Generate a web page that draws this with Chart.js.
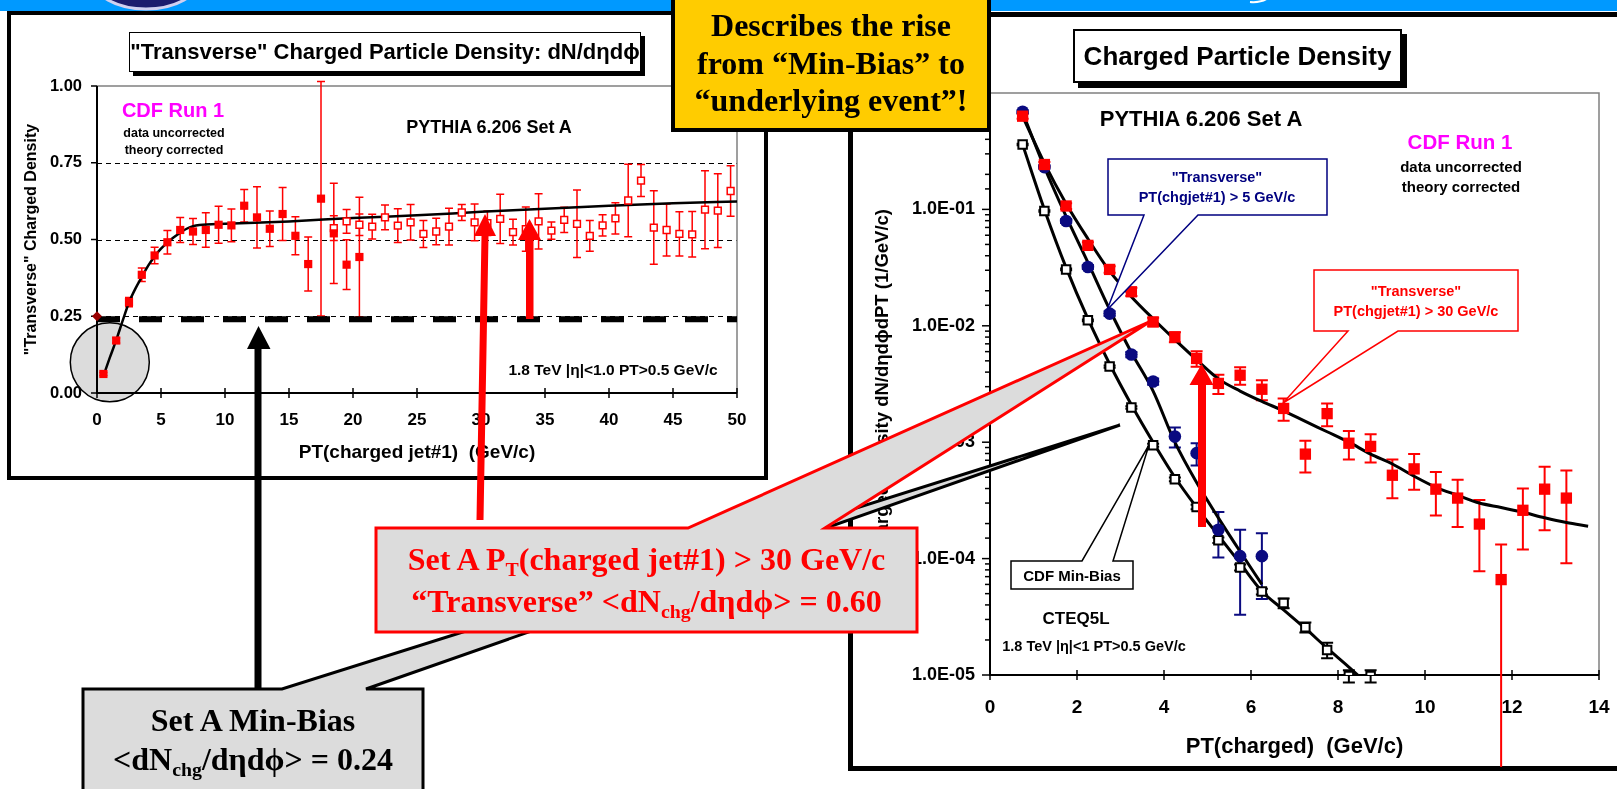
<!DOCTYPE html>
<html>
<head>
<meta charset="utf-8">
<script src="https://cdn.jsdelivr.net/npm/chart.js@4.4.1/dist/chart.umd.min.js"></script>
<style>
html, body { margin: 0; padding: 0; background: #fff; width: 1617px; height: 789px; overflow: hidden; position: relative; font-family: "Liberation Sans", Arial, sans-serif; }
.abs { position: absolute; }
.strip { left: 0; top: 0; width: 1617px; height: 11px; background: #0099ff; }
.frame { box-sizing: border-box; border: 4px solid #000; background: #fff; }
.lbl { position: absolute; transform: translate(-50%, -50%); white-space: nowrap; font-weight: bold; line-height: 1; }
.titlebox { position: absolute; box-sizing: border-box; border: 1.5px solid #000; background: #fff; display: flex; align-items: center; justify-content: center; font-weight: bold; white-space: nowrap; }
.serif { position: absolute; font-family: "Liberation Serif", "Times New Roman", serif; font-weight: bold; text-align: center; white-space: nowrap; font-size: 32px; }
.serif sub { font-size: 0.62em; vertical-align: baseline; position: relative; top: 0.28em; }
canvas { position: absolute; }
svg { position: absolute; left: 0; top: 0; }
.yellow { position: absolute; left: 671px; top: -4px; width: 320px; height: 136px; box-sizing: border-box; border: 4px solid #000; background: #ffcc00; }
</style>
</head>
<body>
<div class="abs strip"></div>
<div class="abs frame" style="left:7px;top:11px;width:761px;height:469px"></div>
<div class="abs frame" style="left:848px;top:12px;width:800px;height:759px;border-width:5px"></div>

<canvas id="leftChart" width="750" height="460" style="left:12px;top:16px"></canvas>
<canvas id="rightChart" width="765" height="750" style="left:852px;top:17px"></canvas>

<!-- left panel texts -->
<div class="titlebox" style="left:129px;top:32px;width:512px;height:40px;font-size:22px;box-shadow:4px 4px 0 #000">"Transverse" Charged Particle Density: dN/dηdϕ</div>
<div class="lbl" style="left:173px;top:110px;font-size:20px;color:#ff00ff">CDF Run 1</div>
<div class="lbl" style="left:174px;top:133px;font-size:12.5px">data uncorrected</div>
<div class="lbl" style="left:174px;top:150px;font-size:12.5px">theory corrected</div>
<div class="lbl" style="left:489px;top:127px;font-size:18px">PYTHIA 6.206 Set A</div>
<div class="lbl" style="left:613px;top:370px;font-size:15.5px">1.8 TeV |η|&lt;1.0 PT&gt;0.5 GeV/c</div>

<!-- right panel texts -->
<div class="titlebox" style="left:1073px;top:29px;width:329px;height:54px;font-size:26px;border-width:2px;box-shadow:5px 5px 0 #000">Charged Particle Density</div>
<div class="lbl" style="left:1201px;top:119px;font-size:22px">PYTHIA 6.206 Set A</div>
<div class="lbl" style="left:1460px;top:142px;font-size:20.5px;color:#ff00ff">CDF Run 1</div>
<div class="lbl" style="left:1461px;top:166px;font-size:15px">data uncorrected</div>
<div class="lbl" style="left:1461px;top:186px;font-size:15px">theory corrected</div>
<div class="lbl" style="left:1076px;top:618px;font-size:17px">CTEQ5L</div>
<div class="lbl" style="left:1094px;top:646px;font-size:14.5px">1.8 TeV |η|&lt;1 PT&gt;0.5 GeV/c</div>

<svg width="1617" height="789">
  <ellipse cx="146" cy="-22" rx="54" ry="31" fill="#1c1c6e" stroke="#d0d0f0" stroke-width="3"/>
  <path d="M1250 2 Q1261 3 1268 -2" stroke="#fff" stroke-width="2" fill="none"/>
  <!-- right panel callouts -->
  <path d="M1108 159 H1327 V215 H1198 L1107 310 L1144 215 H1108 Z" fill="#fff" stroke="#000080" stroke-width="1.5"/>
  <path d="M1314 270 H1518 V331 H1398 L1283 403 L1348 331 H1314 Z" fill="#fff" stroke="#ff0000" stroke-width="1.5"/>
  <path d="M1011 561 H1082 L1149 445 L1113 561 H1133 V589 H1011 Z" fill="#fff" stroke="#000" stroke-width="1.5"/>
  <!-- big callouts -->
  <path d="M83 689 H282 L1120 425 L366 689 H423 V800 H83 Z" fill="#dcdcdc" stroke="#000" stroke-width="3"/>
  <path d="M376 528 H688 L1151 321 L825 528 H917 V632 H376 Z" fill="#dcdcdc" stroke="#ff0000" stroke-width="3"/>
  <!-- arrows -->
  <path d="M254.5 689 V349 H247 L258.5 326 L270.5 349 H261.5 V689 Z" fill="#000"/>
  <path d="M476.5 520 L483.5 520 L488.5 236 L496 236 L485 214 L474 236 L481.5 236 Z" fill="#ff0000"/>
  <path d="M526 319 H533.5 V240 H541 L529.5 219 L518 240 H526 Z" fill="#ff0000"/>
  <path d="M1198 527 H1206 V385 H1213.5 L1201.7 364 L1189.5 385 H1198 Z" fill="#ff0000"/>
</svg>

<div class="lbl" style="left:1217px;top:177px;font-size:14.5px;color:#000080">"Transverse"</div>
<div class="lbl" style="left:1217px;top:197px;font-size:14.5px;color:#000080">PT(chgjet#1) &gt; 5 GeV/c</div>
<div class="lbl" style="left:1416px;top:291px;font-size:14.5px;color:#ff0000">"Transverse"</div>
<div class="lbl" style="left:1416px;top:311px;font-size:14.5px;color:#ff0000">PT(chgjet#1) &gt; 30 GeV/c</div>
<div class="lbl" style="left:1072px;top:575px;font-size:15px">CDF Min-Bias</div>

<div class="serif" style="left:376px;width:541px;top:540px;line-height:38px;color:#ff0000">Set A P<sub>T</sub>(charged jet#1) &gt; 30 GeV/c<br>“Transverse” &lt;dN<sub>chg</sub>/dηdϕ&gt; = 0.60</div>
<div class="serif" style="left:83px;width:340px;top:701px;line-height:39px;color:#000">Set A Min-Bias<br>&lt;dN<sub>chg</sub>/dηdϕ&gt; = 0.24</div>

<div class="yellow"></div>
<div class="serif" style="left:671px;width:320px;top:7px;line-height:37.5px;color:#000">Describes the rise<br>from “Min-Bias” to<br>“underlying event”!</div>

<script>
// left panel: "Transverse" charged density vs PT(charged jet#1)
const mbJetPt = [0.5, 1.5, 2.5, 3.5, 4.5, 5.5, 6.5, 7.5, 8.5, 9.5, 10.5, 11.5, 12.5, 13.5, 14.5, 15.5, 16.5, 17.5, 18.5, 19.5, 20.5];
const mbDensity = [0.062, 0.171, 0.296, 0.385, 0.448, 0.491, 0.531, 0.526, 0.531, 0.548, 0.546, 0.610, 0.572, 0.535, 0.583, 0.512, 0.420, 0.633, 0.520, 0.418, 0.443];
const mbDensityErr = [0.005, 0.008, 0.015, 0.022, 0.027, 0.038, 0.041, 0.042, 0.056, 0.060, 0.053, 0.053, 0.100, 0.058, 0.086, 0.062, 0.088, 0.382, 0.163, 0.081, 0.195];

const jetJetPt = [18.5, 19.5, 20.5, 21.5, 22.5, 23.5, 24.5, 25.5, 26.5, 27.5, 28.5, 29.5, 30.5, 31.5, 32.5, 33.5, 34.5, 35.5, 36.5, 37.5, 38.5, 39.5, 40.5, 41.5, 42.5, 43.5, 44.5, 45.5, 46.5, 47.5, 48.5, 49.5];
const jetDensity = [0.537, 0.559, 0.548, 0.542, 0.572, 0.545, 0.556, 0.518, 0.526, 0.542, 0.588, 0.556, 0.553, 0.567, 0.524, 0.534, 0.559, 0.529, 0.564, 0.551, 0.512, 0.546, 0.569, 0.627, 0.692, 0.539, 0.531, 0.518, 0.517, 0.597, 0.594, 0.658];
const jetDensityErr = [0.040, 0.039, 0.035, 0.040, 0.040, 0.055, 0.058, 0.044, 0.043, 0.060, 0.026, 0.060, 0.040, 0.080, 0.042, 0.072, 0.090, 0.028, 0.041, 0.110, 0.050, 0.035, 0.051, 0.118, 0.052, 0.120, 0.085, 0.072, 0.074, 0.127, 0.120, 0.082];

const setAJetPt = [0.5, 1, 1.5, 2, 2.5, 3, 3.5, 4, 4.5, 5, 5.5, 6, 6.5, 7, 7.5, 8, 10, 15, 20, 25, 30, 35, 40, 45, 50];
const setADensity = [0.055, 0.115, 0.172, 0.235, 0.295, 0.34, 0.378, 0.415, 0.445, 0.47, 0.49, 0.507, 0.522, 0.535, 0.543, 0.547, 0.551, 0.559, 0.57, 0.579, 0.59, 0.6, 0.61, 0.618, 0.624];

const minBiasJetPt = [0, 50];
const minBiasLevel = [0.24, 0.24];

// right panel: charged density vs PT(charged)
const ptCharged = [0.75, 1.25, 1.75, 2.25, 2.75, 3.25, 3.75, 4.25, 4.75, 5.25, 5.75, 6.25, 6.75, 7.25, 7.75, 8.25, 8.75, 9.25, 9.75, 10.25, 10.75, 11.25, 11.75, 12.25, 12.75, 13.25];
const trans30 = [0.632, 0.243, 0.107, 0.0491, 0.0305, 0.0196, 0.0108, 0.00802, 0.00524, 0.0032, 0.00376, 0.00285, 0.00195, 0.00079, 0.00176, 0.00098, 0.00092, 0.00052, 0.00059, 0.000395, 0.000331, 0.000198, 0.000066, 0.00026, 0.000395, 0.000331];
const trans30Err = [0.03, 0.012, 0.006, 0.003, 0.002, 0.0016, 0.0009, 0.0008, 0.0008, 0.0006, 0.00064, 0.00056, 0.00042, 0.00024, 0.00039, 0.00027, 0.00025, 0.00019, 0.0002, 0.00016, 0.000144, 0.00012, 0.000066, 0.00014, 0.00022, 0.00024];
const trans5 = [0.69, 0.231, 0.0794, 0.032, 0.01273, 0.00566, 0.00332, 0.00112, 0.000805, 0.000177, 0.000105, 0.000105];
const trans5Err = [0.02, 0.008, 0.003, 0.0013, 0.0006, 0.0003, 0.0002, 0.00022, 0.000175, 0.000075, 0.000072, 0.00006];
const minBias = [0.361, 0.0968, 0.0305, 0.01115, 0.00447, 0.00199, 0.000942, 0.00048, 0.000278, 0.000144, 0.000084, 0.0000522, 0.0000415, 0.0000257, 0.0000164, 0.0000098, 0.0000098];
const minBiasErr = [0.005, 0.0015, 0.0005, 0.0002, 0.0001, 0.00005, 0.00003, 0.000018, 0.000012, 0.000008, 0.000005, 0.000003, 0.000004, 0.0000025, 0.0000025, 0.0000012, 0.0000012];

const curvePt = [0.75, 1.25, 1.75, 2.25, 2.75, 3.25, 3.75, 4.25, 4.75, 5.25, 5.75, 6.25, 6.75, 7.25, 7.75, 8.25, 8.75, 9.25, 9.75, 10.25, 10.75, 11.25, 11.75, 12.25, 12.75, 13.25, 13.75];
const curve30 = [0.63, 0.25, 0.112, 0.056, 0.0295, 0.0178, 0.0115, 0.0076, 0.0051, 0.0035, 0.00275, 0.00224, 0.00186, 0.00151, 0.00123, 0.001, 0.00079, 0.00065, 0.00051, 0.00041, 0.00035, 0.0003, 0.000275, 0.00025, 0.000224, 0.000204, 0.00019];
const curve5 = [0.68, 0.23, 0.087, 0.035, 0.0138, 0.0059, 0.00275, 0.001, 0.00045, 0.000224, 0.000115, 0.00006];
const curveMB = [0.36, 0.1, 0.0316, 0.0115, 0.0047, 0.0021, 0.001, 0.0005, 0.000275, 0.000158, 0.0000912, 0.0000525, 0.0000363, 0.0000251, 0.000017, 0.0000117, 0.0000079];

const pts = (xs, ys) => ys.map((y, i) => ({ x: xs[i], y: y }));

Chart.defaults.font.family = '"Liberation Sans", Arial, sans-serif';
Chart.defaults.font.weight = 'bold';
Chart.defaults.color = '#000';
Chart.defaults.animation = false;

// axes, plot border, tick marks, error bars
const axisDecor = {
    id: 'axisDecor',
    beforeDraw(chart, args, opts) {
        if (!opts.circle) return;
        const ctx = chart.ctx;
        const c = opts.circle;
        ctx.save();
        ctx.beginPath();
        ctx.arc(chart.scales.x.getPixelForValue(c.x), chart.scales.y.getPixelForValue(c.y), c.r, 0, Math.PI * 2);
        ctx.fillStyle = '#dcdcdc';
        ctx.fill();
        ctx.lineWidth = 1.5;
        ctx.strokeStyle = '#000';
        ctx.stroke();
        ctx.restore();
    },
    beforeDatasetsDraw(chart, args, opts) {
        const ctx = chart.ctx;
        const a = chart.chartArea;
        const xs = chart.scales.x;
        const ys = chart.scales.y;
        ctx.save();
        if (opts.dashedGrid) {
            ctx.setLineDash([5, 4]);
            ctx.strokeStyle = '#000';
            ctx.lineWidth = 1;
            ys.ticks.forEach(t => {
                if (t.value <= ys.min || t.value >= ys.max) return;
                const py = Math.round(ys.getPixelForValue(t.value)) + 0.5;
                ctx.beginPath();
                ctx.moveTo(a.left, py);
                ctx.lineTo(a.right, py);
                ctx.stroke();
            });
            ctx.setLineDash([]);
        }
        ctx.strokeStyle = '#808080';
        ctx.lineWidth = 1.5;
        ctx.beginPath();
        ctx.moveTo(a.left, a.top);
        ctx.lineTo(a.right, a.top);
        ctx.lineTo(a.right, a.bottom);
        ctx.stroke();

        ctx.strokeStyle = '#000';
        ctx.lineWidth = 2;
        ctx.beginPath();
        ctx.moveTo(a.left, a.top);
        ctx.lineTo(a.left, a.bottom);
        ctx.lineTo(a.right, a.bottom);
        ctx.stroke();

        ctx.lineWidth = 1.5;
        ys.ticks.forEach(t => {
            const py = ys.getPixelForValue(t.value);
            let len = 6;
            if (opts.log) {
                const e = Math.log10(t.value);
                len = Math.abs(e - Math.round(e)) < 1e-6 ? 8 : 5;
            }
            ctx.beginPath();
            ctx.moveTo(a.left - len, py);
            ctx.lineTo(a.left, py);
            ctx.stroke();
        });
        xs.ticks.forEach(t => {
            const px = xs.getPixelForValue(t.value);
            ctx.beginPath();
            ctx.moveTo(px, a.bottom - 5);
            ctx.lineTo(px, a.bottom + 5);
            ctx.stroke();
        });

        // error bars
        chart.data.datasets.forEach(ds => {
            if (!ds.errors) return;
            ctx.strokeStyle = ds.pointBorderColor;
            ctx.lineWidth = opts.errWidth;
            ds.data.forEach((p, j) => {
                const e = ds.errors[j];
                const px = xs.getPixelForValue(p.x);
                const top = ys.getPixelForValue(p.y + e);
                const lo = p.y - e;
                const bot = lo > 0 ? ys.getPixelForValue(lo) : chart.height;
                const w = opts.cap;
                ctx.beginPath();
                ctx.moveTo(px, top);
                ctx.lineTo(px, bot);
                ctx.moveTo(px - w, top);
                ctx.lineTo(px + w, top);
                if (lo > 0) {
                    ctx.moveTo(px - w, bot);
                    ctx.lineTo(px + w, bot);
                }
                ctx.stroke();
            });
        });
        ctx.restore();
    }
};

new Chart(document.getElementById('leftChart'), {
    type: 'scatter',
    data: {
        datasets: [
            { label: 'CDF Min-Bias', data: pts(mbJetPt, mbDensity), errors: mbDensityErr, pointStyle: 'rect', pointRadius: 5.8, pointBackgroundColor: '#ff0000', pointBorderColor: '#ff0000', pointBorderWidth: 0, order: 0 },
            { label: 'CDF JET20', data: pts(jetJetPt, jetDensity), errors: jetDensityErr, pointStyle: 'rect', pointRadius: 4.8, pointBackgroundColor: '#ffffff', pointBorderColor: '#ff0000', pointBorderWidth: 1.5, order: 0 },
            { label: 'zero', data: pts([0], [0.25]), pointStyle: 'rectRot', pointRadius: 5, pointBackgroundColor: '#990000', pointBorderColor: '#990000', pointBorderWidth: 0, clip: false, order: 0 },
            { label: 'PYTHIA 6.206 Set A', data: pts(setAJetPt, setADensity), showLine: true, pointRadius: 0, borderColor: '#000', borderWidth: 2.5, cubicInterpolationMode: 'monotone', order: 1 },
            { label: 'Set A Min-Bias', data: pts(minBiasJetPt, minBiasLevel), showLine: true, pointRadius: 0, borderColor: '#000', borderWidth: 6, borderDash: [23, 19], order: 1 }
        ]
    },
    options: {
        responsive: false,
        layout: { padding: { left: 0, top: 70, right: 25, bottom: 0 } },
        plugins: {
            legend: { display: false },
            tooltip: { enabled: false },
            axisDecor: { dashedGrid: true, cap: 4, errWidth: 1.5, circle: { x: 1.0, y: 0.1, r: 39.5 } }
        },
        scales: {
            x: {
                type: 'linear', min: 0, max: 50,
                grid: { display: false, drawTicks: true, tickLength: 17 },
                border: { display: false },
                ticks: { stepSize: 5, padding: 0, font: { size: 17, weight: 'bold' } },
                title: { display: true, text: 'PT(charged jet#1)  (GeV/c)', font: { size: 19, weight: 'bold' }, padding: { top: 0, bottom: 11.6 } },
                afterFit: s => { s.height = 83; }
            },
            y: {
                min: 0, max: 1,
                grid: { display: false, drawTicks: false },
                border: { display: false },
                ticks: { stepSize: 0.25, padding: 15, font: { size: 16.5, weight: 'bold' }, callback: v => v.toFixed(2) },
                title: { display: true, text: '"Transverse" Charged Density', font: { size: 16, weight: 'bold' }, padding: { top: 10.4, bottom: 0 } },
                afterFit: s => { s.width = 85; }
            }
        }
    },
    plugins: [axisDecor]
});

const decade = v => {
    const e = Math.log10(v);
    if (Math.abs(e - Math.round(e)) > 1e-6) return '';
    const n = Math.round(e);
    return '1.0E' + (n < 0 ? '-' : '+') + String(Math.abs(n)).padStart(2, '0');
};

new Chart(document.getElementById('rightChart'), {
    type: 'scatter',
    data: {
        datasets: [
            { label: 'Transverse PT(chgjet#1) > 30 GeV/c', data: pts(ptCharged, trans30), errors: trans30Err, pointStyle: 'rect', pointRadius: 8, pointBackgroundColor: '#ff0000', pointBorderColor: '#ff0000', pointBorderWidth: 0, order: 0 },
            { label: 'Transverse PT(chgjet#1) > 5 GeV/c', data: pts(ptCharged, trans5), errors: trans5Err, pointStyle: 'circle', pointRadius: 6.3, pointBackgroundColor: '#0a0a80', pointBorderColor: '#0a0a80', pointBorderWidth: 0, order: 0 },
            { label: 'CDF Min-Bias', data: pts(ptCharged, minBias), errors: minBiasErr, pointStyle: 'rect', pointRadius: 6, pointBackgroundColor: '#ffffff', pointBorderColor: '#000000', pointBorderWidth: 2, order: 0 },
            { label: 'Set A 30', data: pts(curvePt, curve30), showLine: true, pointRadius: 0, borderColor: '#000', borderWidth: 3, cubicInterpolationMode: 'monotone', order: 1 },
            { label: 'Set A 5', data: pts(curvePt, curve5), showLine: true, pointRadius: 0, borderColor: '#000', borderWidth: 3, cubicInterpolationMode: 'monotone', order: 1 },
            { label: 'Set A MB', data: pts(curvePt, curveMB), showLine: true, pointRadius: 0, borderColor: '#000', borderWidth: 3, cubicInterpolationMode: 'monotone', order: 1 }
        ]
    },
    options: {
        responsive: false,
        layout: { padding: { left: 0, top: 76, right: 18, bottom: 0 } },
        plugins: {
            legend: { display: false },
            tooltip: { enabled: false },
            axisDecor: { log: true, cap: 6, errWidth: 2 }
        },
        scales: {
            x: {
                type: 'linear', min: 0, max: 14,
                grid: { display: false, drawTicks: true, tickLength: 21.6 },
                border: { display: false },
                ticks: { stepSize: 2, padding: 0, font: { size: 19, weight: 'bold' } },
                title: { display: true, text: 'PT(charged)  (GeV/c)', font: { size: 22, weight: 'bold' }, padding: { top: 0, bottom: 6.8 } },
                afterFit: s => { s.height = 92; }
            },
            y: {
                type: 'logarithmic', min: 0.00001, max: 1,
                grid: { display: false, drawTicks: false },
                border: { display: false },
                ticks: { autoSkip: false, padding: 15, font: { size: 18, weight: 'bold' }, callback: decade },
                title: { display: true, text: 'Charged Density dN/dηdϕdPT (1/GeV/c)', font: { size: 18.5, weight: 'bold' }, padding: { top: 20.2, bottom: 0 } },
                afterFit: s => { s.width = 138; }
            }
        }
    },
    plugins: [axisDecor]
});
</script>
</body>
</html>
